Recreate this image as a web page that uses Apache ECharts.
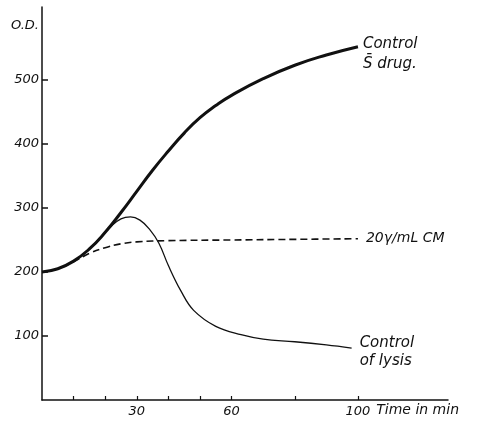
<!DOCTYPE html>
<html>
<head>
<meta charset="utf-8">
<script src="https://cdn.jsdelivr.net/npm/echarts@6/dist/echarts.min.js"></script>
<style>
  html, body { margin: 0; padding: 0; background: #fff; }
  #chart { width: 486px; height: 421px; }
</style>
</head>
<body>
<div id="chart"></div>
<script>
// time in min
var drugTime = [0, 5, 10, 15, 20, 25, 30, 35, 40, 45, 50, 55, 60, 70, 80, 90, 100]
var drugOD = [200, 205, 217, 236, 262, 293, 326, 359, 389, 417, 441, 460, 476, 502, 523, 539, 552]

var lysisTime = [0, 5, 10, 15, 20, 22, 25, 28, 31, 34, 37, 40, 44, 48, 55, 63, 70, 80, 90, 98]
var lysisOD = [200, 205, 217, 236, 262, 272, 283, 286, 281, 267, 245, 210, 170, 140, 115, 102, 95, 91, 86, 81]

var cmTime = [0, 5, 10, 15, 20, 25, 30, 40, 60, 80, 100]
var cmOD = [200, 205, 216, 229, 238, 244, 247, 249, 250, 251, 252]

var yTicks = [100, 200, 300, 400, 500]
var xTicks = [10, 20, 30, 40, 50, 60, 80, 100]
var xLabels = [30, 60, 100]

var font = 'DejaVu Sans'
var ink = '#111'

function pairs(xs, ys) {
  return xs.map(function (x, i) { return [x, ys[i]] })
}

var chart = echarts.init(document.getElementById('chart'))
var options = {
  animation: false,
  backgroundColor: '#fff',
  grid: { left: 42, right: 38, top: 7, bottom: 21 },
  xAxis: {
    type: 'value',
    min: 0,
    max: 128.5,
    name: 'Time in min',
    nameLocation: 'end',
    nameGap: -76,
    nameTextStyle: {
      color: ink, fontFamily: font, fontStyle: 'italic', fontSize: 14,
      verticalAlign: 'top', padding: [3, 0, 0, 0]
    },
    splitLine: { show: false },
    axisLine: { lineStyle: { color: ink, width: 1.5 } },
    axisTick: { inside: true, length: 4, customValues: xTicks, lineStyle: { color: ink, width: 1.2 } },
    axisLabel: {
      customValues: xLabels, margin: 5,
      color: ink, fontFamily: font, fontStyle: 'italic', fontSize: 13
    }
  },
  yAxis: {
    type: 'value',
    min: 0,
    max: 614,
    name: 'O.D.',
    nameLocation: 'end',
    nameGap: -25,
    nameTextStyle: {
      color: ink, fontFamily: font, fontStyle: 'italic', fontSize: 13,
      align: 'right', padding: [0, 3, 0, 0]
    },
    splitLine: { show: false },
    axisLine: { lineStyle: { color: ink, width: 1.5 } },
    axisTick: { inside: true, length: 6, customValues: yTicks, lineStyle: { color: ink, width: 1.5 } },
    axisLabel: {
      customValues: yTicks, margin: 3,
      color: ink, fontFamily: font, fontStyle: 'italic', fontSize: 13
    }
  },
  series: [
    {
      name: 'Control S drug',
      type: 'line',
      data: pairs(drugTime, drugOD),
      smooth: 0.5,
      showSymbol: false,
      lineStyle: { color: ink, width: 3 },
      endLabel: {
        show: true,
        formatter: 'Control\nS\u0304 drug.',
        distance: 5,
        offset: [0, 7],
        lineHeight: 20,
        color: ink, fontFamily: font, fontStyle: 'italic', fontSize: 15
      }
    },
    {
      name: 'Control of lysis',
      type: 'line',
      data: pairs(lysisTime, lysisOD),
      smooth: 0.4,
      showSymbol: false,
      lineStyle: { color: ink, width: 1.3 },
      endLabel: {
        show: true,
        formatter: 'Control\nof lysis',
        distance: 8,
        offset: [0, 4],
        lineHeight: 18,
        color: ink, fontFamily: font, fontStyle: 'italic', fontSize: 15
      }
    },
    {
      name: '20\u03b3/mL CM',
      type: 'line',
      data: pairs(cmTime, cmOD),
      smooth: 0.4,
      showSymbol: false,
      lineStyle: { color: ink, width: 1.6, type: [7, 4] },
      endLabel: {
        show: true,
        formatter: '20\u03b3/mL CM',
        distance: 8,
        color: ink, fontFamily: font, fontStyle: 'italic', fontSize: 14
      }
    }
  ]
}
chart.setOption(options)
</script>
</body>
</html>
